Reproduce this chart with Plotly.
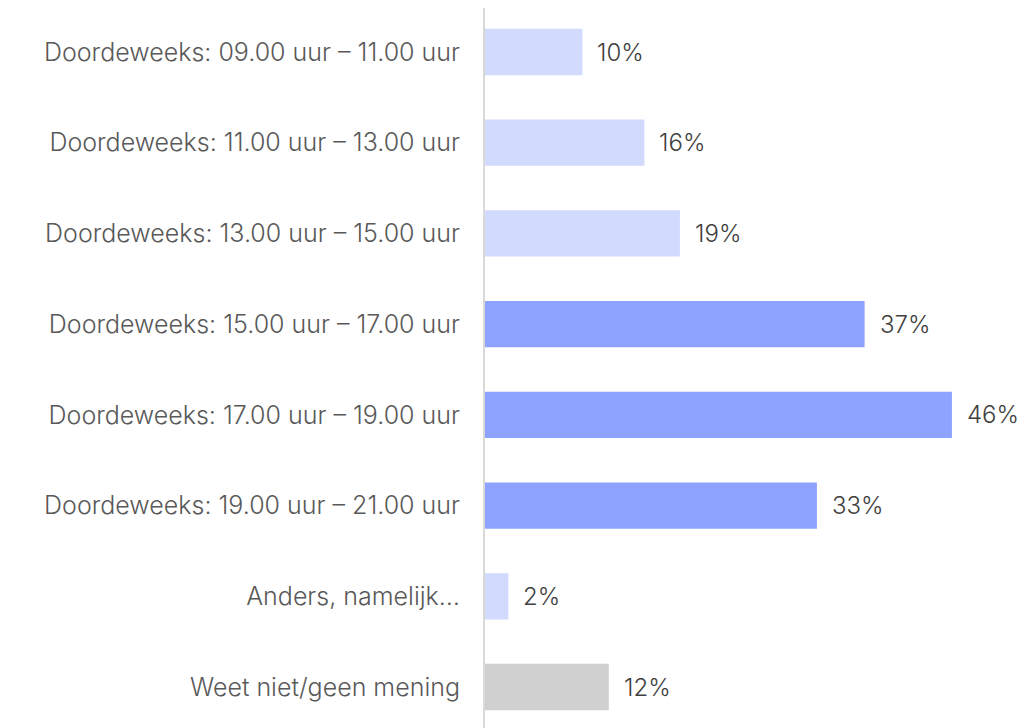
import plotly.graph_objects as go

categories = [
    "Doordeweeks: 09.00 uur – 11.00 uur",
    "Doordeweeks: 11.00 uur – 13.00 uur",
    "Doordeweeks: 13.00 uur – 15.00 uur",
    "Doordeweeks: 15.00 uur – 17.00 uur",
    "Doordeweeks: 17.00 uur – 19.00 uur",
    "Doordeweeks: 19.00 uur – 21.00 uur",
    "Anders, namelijk…",
    "Weet niet/geen mening",
]
values = [9.6, 15.7, 19.2, 37.4, 46.0, 32.7, 2.3, 12.2]
labels = ["10%", "16%", "19%", "37%", "46%", "33%", "2%", "12%"]
groups = ["light", "light", "light", "dark", "dark", "dark", "light", "grey"]

palette = {"light": "#D2DAFD", "dark": "#8EA3FF", "grey": "#D0D0D0"}
colors = [palette[g] for g in groups]

FONT = "Inter, 'Open Sans', sans-serif"

fig = go.Figure()
fig.add_trace(go.Bar(
    x=values,
    y=categories,
    orientation="h",
    marker=dict(color=colors, line=dict(width=0)),
    width=0.51,
    hoverinfo="skip",
))

for cat, v, lab in zip(categories, values, labels):
    fig.add_annotation(
        x=v, y=cat, text=lab, showarrow=False,
        xanchor="left", yanchor="middle", xshift=13,
        font=dict(family=FONT, size=24, color="#404040", weight=300),
    )

fig.update_layout(
    width=1017, height=720,
    margin=dict(l=477, r=0, t=0, b=0),
    paper_bgcolor="white",
    plot_bgcolor="white",
    showlegend=False,
    xaxis=dict(
        range=[0, 53.2], visible=False, showgrid=False, zeroline=False,
    ),
    yaxis=dict(
        type="category",
        categoryorder="array",
        categoryarray=categories,
        range=[7.452, -0.485],
        showgrid=False,
        zeroline=False,
        showline=True,
        linecolor="#D9D9D9",
        linewidth=2,
        ticks="",
        ticklabelstandoff=18,
        tickfont=dict(family=FONT, size=25, color="#595959", weight=300),
    ),
)

fig.write_html("out.html")
